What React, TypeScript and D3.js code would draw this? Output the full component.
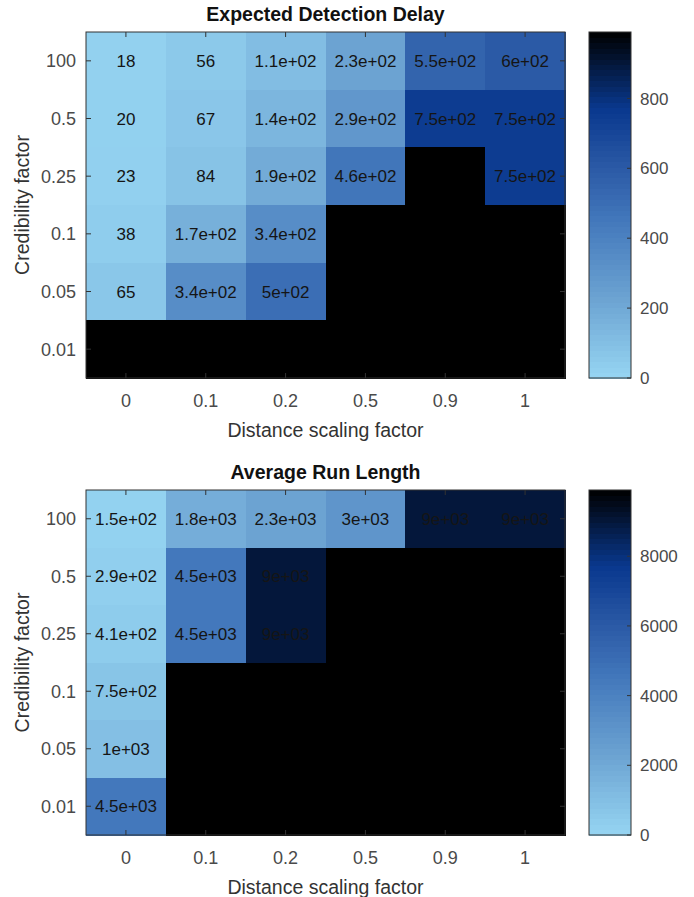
import React, { useRef, useEffect } from "react";
import * as d3 from "d3";

// 軸ラベル
const distanceFactors = ["0", "0.1", "0.2", "0.5", "0.9", "1"];
const credibilityFactors = ["100", "0.5", "0.25", "0.1", "0.05", "0.01"];

// Expected Detection Delay（null = 黒セル）
const eddValues: (number | null)[][] = [
  [18, 56, 110, 230, 550, 600],
  [20, 67, 140, 290, 750, 750],
  [23, 84, 190, 460, null, 750],
  [38, 170, 340, null, null, null],
  [65, 340, 500, null, null, null],
  [null, null, null, null, null, null],
];
const eddTicks = [0, 200, 400, 600, 800];
const eddMax = 990;

// Average Run Length
const arlValues: (number | null)[][] = [
  [150, 1800, 2300, 3000, 9000, 9000],
  [290, 4500, 9000, null, null, null],
  [410, 4500, 9000, null, null, null],
  [750, null, null, null, null, null],
  [1000, null, null, null, null, null],
  [4500, null, null, null, null, null],
];
const arlTicks = [0, 2000, 4000, 6000, 8000];
const arlMax = 9900;

const FONT = "'Liberation Sans', Arial, Helvetica, sans-serif";

// MATLAB %.2g 風
function fmtG(v: number): string {
  if (v < 100) return String(v);
  const e = Math.floor(Math.log10(v) + 1e-9);
  const m = (v / Math.pow(10, e)).toFixed(1).replace(/\.0$/, "");
  return `${m}e+${String(e).padStart(2, "0")}`;
}

const colorT = d3
  .scaleLinear<string>()
  .domain([0, 0.23, 0.46, 0.6, 0.78, 1])
  .range(["#96d5f2", "#6ca3d2", "#4277bb", "#2c5ba7", "#09388e", "#000000"])
  .clamp(true);

function drawPanel(
  svg: d3.Selection<SVGSVGElement, unknown, null, undefined>,
  opts: {
    title: string;
    values: (number | null)[][];
    ticks: number[];
    max: number;
    top: number;
    bottom: number;
  }
) {
  const left = 86;
  const right = 565;
  const { top, bottom, values, ticks, max, title } = opts;

  const x = d3.scaleBand<string>().domain(distanceFactors).range([left, right]);
  const y = d3.scaleBand<string>().domain(credibilityFactors).range([top, bottom]);

  const g = svg.append("g");

  // セル
  values.forEach((row, i) => {
    row.forEach((v, j) => {
      const cx = x(distanceFactors[j])!;
      const cy = y(credibilityFactors[i])!;
      g.append("rect")
        .attr("x", cx)
        .attr("y", cy)
        .attr("width", x.bandwidth() + 0.5)
        .attr("height", y.bandwidth() + 0.5)
        .attr("shape-rendering", "crispEdges")
        .attr("fill", v == null ? "#000" : colorT(v / max));
    });
  });
  values.forEach((row, i) => {
    row.forEach((v, j) => {
      if (v == null) return;
      g.append("text")
        .attr("x", x(distanceFactors[j])! + x.bandwidth() / 2)
        .attr("y", y(credibilityFactors[i])! + y.bandwidth() / 2)
        .attr("dy", "0.36em")
        .attr("text-anchor", "middle")
        .style("font-family", FONT)
        .style("font-size", "17px")
        .style("fill", "#151515")
        .text(fmtG(v));
    });
  });

  // 枠
  g.append("rect")
    .attr("x", left)
    .attr("y", top)
    .attr("width", right - left)
    .attr("height", bottom - top)
    .attr("fill", "none")
    .attr("stroke", "#333")
    .attr("stroke-width", 1);

  const tl = 5;
  distanceFactors.forEach((d) => {
    const px = x(d)! + x.bandwidth() / 2;
    g.append("line").attr("x1", px).attr("x2", px).attr("y1", top).attr("y2", top + tl).attr("stroke", "#333");
    g.append("line").attr("x1", px).attr("x2", px).attr("y1", bottom).attr("y2", bottom - tl).attr("stroke", "#333");
    g.append("text")
      .attr("x", px)
      .attr("y", bottom + 23)
      .attr("dy", "0.36em")
      .attr("text-anchor", "middle")
      .style("font-family", FONT)
      .style("font-size", "18px")
      .style("fill", "#4a4a4a")
      .text(d);
  });
  credibilityFactors.forEach((d) => {
    const py = y(d)! + y.bandwidth() / 2;
    g.append("line").attr("x1", left).attr("x2", left + tl).attr("y1", py).attr("y2", py).attr("stroke", "#333");
    g.append("line").attr("x1", right).attr("x2", right - tl).attr("y1", py).attr("y2", py).attr("stroke", "#333");
    g.append("text")
      .attr("x", left - 10)
      .attr("y", py)
      .attr("dy", "0.36em")
      .attr("text-anchor", "end")
      .style("font-family", FONT)
      .style("font-size", "18px")
      .style("fill", "#4a4a4a")
      .text(d);
  });

  // タイトル・軸ラベル
  g.append("text")
    .attr("x", (left + right) / 2)
    .attr("y", top - 18)
    .attr("dy", "0.36em")
    .attr("text-anchor", "middle")
    .style("font-family", FONT)
    .style("font-size", "19.5px")
    .style("font-weight", "bold")
    .style("fill", "#111")
    .text(title);

  g.append("text")
    .attr("x", (left + right) / 2)
    .attr("y", bottom + 52)
    .attr("dy", "0.36em")
    .attr("text-anchor", "middle")
    .style("font-family", FONT)
    .style("font-size", "19.5px")
    .style("fill", "#333")
    .text("Distance scaling factor");

  g.append("text")
    .attr("transform", `translate(22,${(top + bottom) / 2}) rotate(-90)`)
    .attr("dy", "0.36em")
    .attr("text-anchor", "middle")
    .style("font-family", FONT)
    .style("font-size", "19.5px")
    .style("fill", "#333")
    .text("Credibility factor");

  // カラーバー
  const cbL = 589;
  const cbR = 631;
  const cy = d3.scaleLinear().domain([0, max]).range([bottom, top]);
  const steps = 64;
  for (let k = 0; k < steps; k++) {
    const v0 = (k / steps) * max;
    const v1 = ((k + 1) / steps) * max;
    g.append("rect")
      .attr("x", cbL)
      .attr("y", cy(v1))
      .attr("width", cbR - cbL)
      .attr("height", cy(v0) - cy(v1) + 0.5)
      .attr("shape-rendering", "crispEdges")
      .attr("fill", colorT((v0 + v1) / 2 / max));
  }
  g.append("rect")
    .attr("x", cbL)
    .attr("y", top)
    .attr("width", cbR - cbL)
    .attr("height", bottom - top)
    .attr("fill", "none")
    .attr("stroke", "#333");

  ticks.forEach((t) => {
    const py = cy(t);
    g.append("line").attr("x1", cbR).attr("x2", cbR - 4).attr("y1", py).attr("y2", py).attr("stroke", "#333");
    g.append("text")
      .attr("x", cbR + 9)
      .attr("y", py)
      .attr("dy", "0.36em")
      .style("font-family", FONT)
      .style("font-size", "17px")
      .style("fill", "#4a4a4a")
      .text(String(t));
  });
}

export default function App() {
  const svgRef = useRef<SVGSVGElement>(null);
  const width = 694;
  const height = 897;

  useEffect(() => {
    if (!svgRef.current) return;
    const svg = d3.select(svgRef.current);
    svg.selectAll("*").remove();

    svg.append("rect").attr("width", width).attr("height", height).attr("fill", "#fff");

    drawPanel(svg, {
      title: "Expected Detection Delay",
      values: eddValues,
      ticks: eddTicks,
      max: eddMax,
      top: 32,
      bottom: 378,
    });
    drawPanel(svg, {
      title: "Average Run Length",
      values: arlValues,
      ticks: arlTicks,
      max: arlMax,
      top: 490,
      bottom: 835,
    });
  }, []);

  return (
    <svg
      ref={svgRef}
      width={width}
      height={height}
      style={{ position: "absolute", left: 0, top: 0 }}
      viewBox={`0 0 ${width} ${height}`}
    />
  );
}
